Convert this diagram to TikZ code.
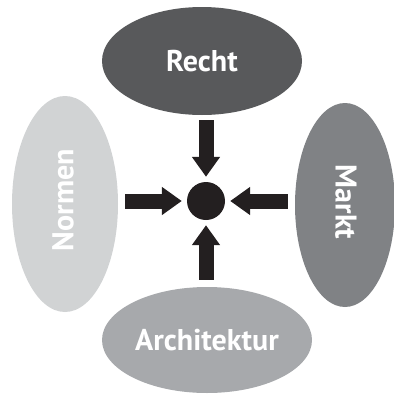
\documentclass[tikz,border=0pt]{standalone}
\usepackage{fontspec}
\setmainfont{PT Sans}
\usetikzlibrary{shapes.geometric,arrows.meta}
\definecolor{rechtgray}{HTML}{58595B}
\definecolor{marktgray}{HTML}{808285}
\definecolor{archgray}{HTML}{A7A9AC}
\definecolor{normgray}{HTML}{D1D3D4}
\definecolor{arrowblack}{HTML}{231F20}
\begin{document}
\begin{tikzpicture}[x=1pt,y=-1pt,
  labelfont/.style={text=white,font=\fontsize{30}{34}\selectfont\bfseries},
  field/.style={ellipse,inner sep=0pt,labelfont},
  force/.style={arrowblack,line width=15pt,
    -{Triangle[length=20pt,width=27pt]}}]
  \useasboundingbox (0,0) rectangle (394,394);
  % four influences around the centre
  \node[field,fill=rechtgray,minimum width=200pt,minimum height=108pt] (recht) at (202,61) {Recht};
  \node[field,fill=normgray,minimum width=106pt,minimum height=216pt] (normen) at (65,204) {};
  \node[field,fill=marktgray,minimum width=100pt,minimum height=204pt] (markt) at (345,205) {};
  \node[field,fill=archgray,minimum width=210pt,minimum height=106pt] (arch) at (207,340) {Architektur};
  \node[rotate=90,labelfont] (normlabel) at (63,200) {Normen};
  \node[rotate=-90,labelfont] (marktlabel) at (346,202) {Markt};
  % the regulated point
  \node[circle,fill=arrowblack,minimum size=38pt,inner sep=0pt] (c) at (206,201) {};
  % arrows pointing inward
  \draw[force,shorten <=5pt,shorten >=5pt] (c |- recht.south) -- (c.north);
  \draw[force,shorten <=7pt,shorten >=5pt] (normen.east |- c) -- (c.west);
  \draw[force,shorten <=7pt,shorten >=5pt] (markt.west |- c) -- (c.east);
  \draw[force,shorten <=7pt,shorten >=5pt] (c |- arch.north) -- (c.south);
\end{tikzpicture}
\end{document}
